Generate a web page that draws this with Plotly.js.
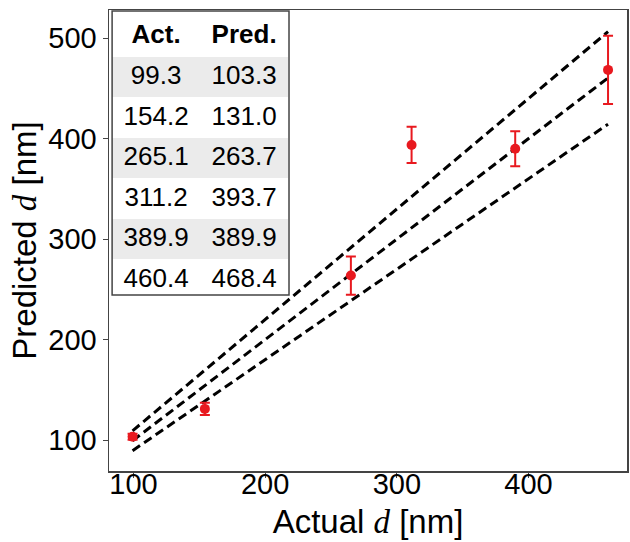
<!DOCTYPE html>
<html><head><meta charset="utf-8">
<script src="https://cdn.plot.ly/plotly-3.0.1.min.js"></script>
<style>html,body{margin:0;padding:0;background:#fff}</style>
</head><body>
<div id="chart" style="width:630px;height:542px"></div>
<script>
// Data
const actual    = [99.3, 154.2, 265.1, 311.2, 389.9, 460.4];
const predicted = [103.3, 131.0, 263.7, 393.7, 389.9, 468.4];
const predErr   = [3, 6, 19, 18, 17.5, 34];
const lineX     = [99.3, 460.4];
const parityY   = [99.3, 460.4];
const upperY    = [109.2, 506.4];
const lowerY    = [89.4, 414.4];
const xTicks    = [100, 200, 300, 400];
const yTicks    = [100, 200, 300, 400, 500];
const actLabels  = ["99.3","154.2","265.1","311.2","389.9","460.4"];
const predLabels = ["103.3","131.0","263.7","393.7","389.9","468.4"];
const headers = ["<b>Act.</b>", "<b>Pred.</b>"];

const rowFill = actLabels.map((_, i) => i % 2 === 0 ? "#ebebeb" : "#ffffff");
const dashStyle = {color: "#000", width: 3, dash: "9px,5px"};
const xRange = [81.4, 474.8];

const traces = [
  {x: lineX, y: upperY, mode: "lines", line: dashStyle, hoverinfo: "skip", showlegend: false},
  {x: lineX, y: parityY, mode: "lines", line: dashStyle, hoverinfo: "skip", showlegend: false},
  {x: lineX, y: lowerY, mode: "lines", line: dashStyle, hoverinfo: "skip", showlegend: false},
  {x: actual, y: predicted, mode: "markers", showlegend: false,
   marker: {color: "#e8191f", size: 10},
   error_y: {type: "data", array: predErr, visible: true, color: "#e8191f", thickness: 2, width: 5}},
  // invisible helper trace so the label axis is active
  {x: xRange, y: [null, null], xaxis: "x2", yaxis: "y", mode: "markers", showlegend: false, hoverinfo: "skip"},
  {type: "table", domain: {x: [0.006, 0.3475], y: [0.382, 0.998]},
   columnwidth: [1, 1],
   header: {values: headers, align: "center", height: 41,
            fill: {color: "#ffffff"}, line: {color: "#ffffff", width: 0},
            font: {family: "Liberation Sans, Arial, sans-serif", size: 26, color: "#000"}},
   cells: {values: [actLabels, predLabels], align: "center", height: 40.5,
           fill: {color: [rowFill, rowFill]}, line: {color: [rowFill, rowFill], width: 0},
           font: {family: "Liberation Sans, Arial, sans-serif", size: 26, color: "#000"}}}
];

const dSpan = "<span style=\"font-family:'Liberation Serif', serif\"><i>d</i></span>";

const layout = {
  width: 630, height: 542,
  margin: {l: 109, r: 3, t: 10, b: 71},
  paper_bgcolor: "#fff", plot_bgcolor: "#fff",
  font: {family: "Liberation Sans, Arial, sans-serif", color: "#000"},
  xaxis: {range: xRange, tickvals: xTicks, showgrid: false, zeroline: false,
          showline: true, mirror: true, linecolor: "#444", linewidth: 1.5,
          ticks: "outside", ticklen: 5, tickcolor: "#444", showticklabels: false,
          title: {text: "Actual " + dSpan + " [nm]", font: {size: 33}, standoff: 33}},
  xaxis2: {range: xRange, tickvals: xTicks, overlaying: "x", anchor: "free", position: 0.015,
           showgrid: false, zeroline: false, showline: false, ticks: "", tickfont: {size: 29}},
  yaxis: {range: [69.2, 528], tickvals: yTicks, showgrid: false, zeroline: false,
          showline: true, mirror: true, linecolor: "#444", linewidth: 1.5,
          ticks: "outside", ticklen: 5, tickcolor: "#444", tickfont: {size: 29},
          title: {text: "Predicted " + dSpan + " [nm]", font: {size: 33}, standoff: 2}},
  shapes: [{type: "rect", xref: "paper", yref: "paper", x0: 0.006, x1: 0.3475, y0: 0.382, y1: 0.998,
            line: {color: "#444", width: 1.5}, fillcolor: "rgba(0,0,0,0)", layer: "above"}]
};

Plotly.newPlot("chart", traces, layout, {displayModeBar: false, staticPlot: true});
</script>
</body></html>
